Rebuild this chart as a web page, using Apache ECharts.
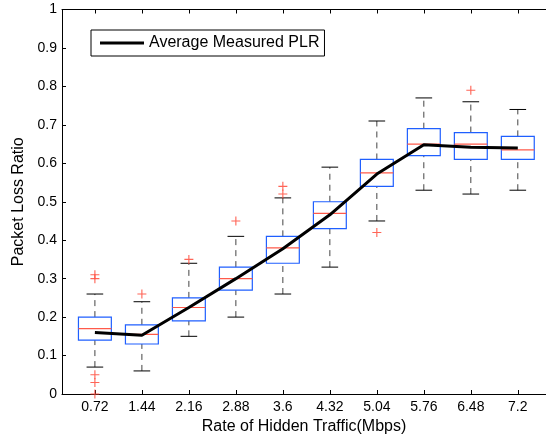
<!DOCTYPE html>
<html>
<head>
<meta charset="utf-8">
<script src="https://cdn.jsdelivr.net/npm/echarts@6/dist/echarts.min.js"></script>
<style>
html,body{margin:0;padding:0;background:#fff;}
#chart{width:546px;height:440px;}
</style>
</head>
<body>
<div id="chart"></div>
<script>
var categories = ['0.72','1.44','2.16','2.88','3.6','4.32','5.04','5.76','6.48','7.2'];
var whiskerLow  = [0.07, 0.06, 0.15, 0.20, 0.26, 0.33, 0.45, 0.53, 0.52, 0.53];
var q1          = [0.14, 0.13, 0.19, 0.27, 0.34, 0.43, 0.54, 0.62, 0.61, 0.61];
var median      = [0.17, 0.155, 0.225, 0.30, 0.38, 0.47, 0.575, 0.65, 0.65, 0.635];
var q3          = [0.20, 0.18, 0.25, 0.33, 0.41, 0.50, 0.61, 0.69, 0.68, 0.67];
var whiskerHigh = [0.26, 0.24, 0.34, 0.41, 0.51, 0.59, 0.71, 0.77, 0.76, 0.74];
var outlierPos  = [1, 1, 1, 1, 1, 2, 3, 4, 5, 5, 7, 9];
var outlierVal  = [0.31, 0.30, 0.05, 0.03, 0.0, 0.26, 0.35, 0.45, 0.52, 0.54, 0.42, 0.79];
var averagePLR  = [0.16, 0.153, 0.225, 0.30, 0.378, 0.466, 0.572, 0.648, 0.642, 0.640];
var yTicks = ['0','0.1','0.2','0.3','0.4','0.5','0.6','0.7','0.8','0.9','1'];

var positions = categories.map(function(c, i){ return i + 1; });
var boxData = positions.map(function(p, i){
  return [p, whiskerLow[i], q1[i], median[i], q3[i], whiskerHigh[i]];
});
var outlierData = outlierPos.map(function(p, i){ return [p, outlierVal[i]]; });
var lineData = positions.map(function(p, i){ return [p, averagePLR[i]]; });

var BOX_W = 0.7, CAP_W = 0.354;
var FONT = 'Liberation Sans, Arial, Helvetica, sans-serif';

function renderBox(params, api){
  var x = api.value(0);
  var lo = api.coord([x, api.value(1)]);
  var b1 = api.coord([x, api.value(2)]);
  var md = api.coord([x, api.value(3)]);
  var b3 = api.coord([x, api.value(4)]);
  var hi = api.coord([x, api.value(5)]);
  var hw = api.size([BOX_W, 0])[0] / 2;
  var cw = api.size([CAP_W, 0])[0] / 2;
  var cx = lo[0];
  var dash = {stroke:'#444', lineWidth:1, lineDash:[6,5]};
  var cap = {stroke:'#000', lineWidth:1};
  return {
    type:'group',
    children:[
      {type:'line', shape:{x1:cx,y1:b3[1],x2:cx,y2:hi[1]}, style:dash},
      {type:'line', shape:{x1:cx,y1:lo[1],x2:cx,y2:b1[1]}, style:dash},
      {type:'line', shape:{x1:cx-cw,y1:hi[1],x2:cx+cw,y2:hi[1]}, style:cap},
      {type:'line', shape:{x1:cx-cw,y1:lo[1],x2:cx+cw,y2:lo[1]}, style:cap},
      {type:'rect', shape:{x:cx-hw,y:b3[1],width:hw*2,height:b1[1]-b3[1]}, style:{fill:'none',stroke:'#1f5fff',lineWidth:1.2}},
      {type:'line', shape:{x1:cx-hw,y1:md[1],x2:cx+hw,y2:md[1]}, style:{stroke:'#ff5a4a',lineWidth:1.2}}
    ]
  };
}

var chart = echarts.init(document.getElementById('chart'), null, {renderer:'canvas'});
chart.setOption({
  animation:false,
  backgroundColor:'#fff',
  grid:{left:62, top:9.5, right:0, bottom:46, containLabel:false},
  legend:{
    data:['Average Measured PLR'],
    left:91, top:30,
    orient:'horizontal',
    backgroundColor:'#fff',
    borderColor:'#000', borderWidth:1, borderRadius:0,
    padding:[5,5,5,9],
    itemWidth:44, itemHeight:3, itemGap:5,
    icon:'rect',
    textStyle:{fontFamily:FONT, fontSize:16, color:'#000'},
    selectedMode:false
  },
  xAxis:[{
    type:'value', min:0.3, max:10.6, position:'bottom',
    name:'Rate of Hidden Traffic(Mbps)', nameLocation:'middle', nameGap:16,
    nameTextStyle:{fontFamily:FONT, fontSize:16, color:'#000'},
    axisLine:{show:true, lineStyle:{color:'#000', width:1}},
    axisTick:{show:true, inside:true, length:4, customValues:positions, lineStyle:{color:'#000'}},
    axisLabel:{show:true, margin:6, customValues:positions, fontFamily:FONT, fontSize:14, color:'#000',
      formatter:function(v){ return categories[Math.round(v)-1] || ''; }},
    splitLine:{show:false}
  },{
    type:'value', min:0.3, max:10.6, position:'top',
    axisLine:{show:true, lineStyle:{color:'#000', width:1}},
    axisTick:{show:true, inside:true, length:4, customValues:positions, lineStyle:{color:'#000'}},
    axisLabel:{show:false},
    splitLine:{show:false}
  }],
  yAxis:[{
    type:'value', min:0, max:1, interval:0.1, position:'left',
    name:'Packet Loss Ratio', nameLocation:'middle', nameGap:34,
    nameTextStyle:{fontFamily:FONT, fontSize:16, color:'#000'},
    axisLine:{show:true, lineStyle:{color:'#000', width:1}},
    axisTick:{show:true, inside:true, length:4, lineStyle:{color:'#000'}},
    axisLabel:{margin:5, fontFamily:FONT, fontSize:14, color:'#000',
      formatter:function(v){ return yTicks[Math.round(v*10)]; }},
    splitLine:{show:false}
  }],
  series:[
    {
      type:'custom', name:'box', renderItem:renderBox, data:boxData,
      encode:{x:0, y:[1,2,3,4,5]}, z:2, silent:true
    },
    {
      type:'scatter', name:'outliers', data:outlierData,
      symbol:'path://M0,3.5h8v1h-8z M3.5,0h1v8h-1z', symbolSize:9,
      itemStyle:{color:'#ff4a3a', opacity:0.85}, z:3, silent:true
    },
    {
      type:'line', name:'Average Measured PLR', data:lineData,
      symbol:'none', lineStyle:{color:'#000', width:3}, itemStyle:{color:'#000'},
      z:4, silent:true
    }
  ]
});
</script>
</body>
</html>
